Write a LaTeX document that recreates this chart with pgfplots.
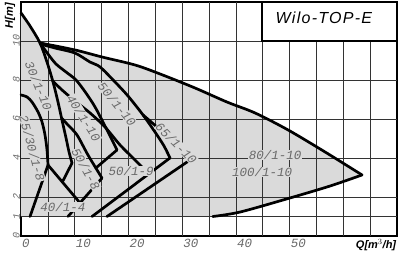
\documentclass[border=0pt]{standalone}
\usepackage{fontspec}
\setmainfont{Liberation Sans}
\newfontfamily\cad{Liberation Mono}
\newfontfamily\wilo[LetterSpace=8]{Liberation Sans}
\usepackage{pgfplots}
\pgfplotsset{compat=1.18}
\definecolor{fillgray}{RGB}{218,218,218}
\definecolor{labgray}{RGB}{105,105,105}
\tikzset{
  crv/.style={black, line width=2.7pt, line join=round, line cap=round},
  gl/.style={black!80, line width=0.6pt},
  lab/.style={font=\cad\itshape\fontsize{12.5}{12.5}\selectfont, text=labgray, fill=fillgray, inner sep=0.4pt},
}
\begin{document}
\begin{tikzpicture}[x=1pt,y=1pt]
\useasboundingbox (0,0) rectangle (400,254);
\begin{axis}[
  at={(21pt,18pt)}, anchor=south west,
  scale only axis, width=376pt, height=234pt,
  xmin=0, xmax=70, ymin=0, ymax=12,
  clip=false,
  axis line style={line width=1.2pt},
  xtick={0,5,...,70},
  xticklabels={0,,10,,20,,30,,40,,50,,,,},
  ytick={0,1,2,4,6,8,10},
  yticklabels={0,1,2,4,6,8,10},
  major tick length=0pt,
  xticklabel style={anchor=north west, font=\cad\itshape\fontsize{12.5}{12.5}\selectfont, text=labgray, inner sep=1pt, yshift=-2pt},
  yticklabel style={rotate=90, anchor=south, font=\cad\itshape\fontsize{10}{10}\selectfont, text=labgray, inner sep=1pt},
]
% shaded field
\addplot[fill=fillgray, draw=none] coordinates {
 (0,11.44) (1.68,10.77) (3.54,9.90) (10.05,9.54) (15.08,9.18) (21.22,8.77) (25.88,8.31)
 (32.40,7.59) (38.35,6.87) (43.57,6.31) (49.71,5.44) (56.60,4.31) (63.49,3.13)
 (57.5,2.56) (50.08,1.95) (40.8,1.23) (35.7,1.0) (0,1.0)} -- cycle;
% grid
\pgfplotsinvokeforeach{5,10,...,65}{\draw[gl] (axis cs:#1,0) -- (axis cs:#1,12);}
\pgfplotsinvokeforeach{1,2,4,6,8,10}{\draw[gl] (axis cs:0,#1) -- (axis cs:70,#1);}
% 80/100 field
\addplot[crv, smooth] coordinates {(3.54,9.90) (10.05,9.54) (15.08,9.18) (21.22,8.77) (25.88,8.31) (32.40,7.59) (38.35,6.87) (43.57,6.31) (49.71,5.44) (56.60,4.31) (63.49,3.13)};
\addplot[crv, smooth] coordinates {(63.49,3.13) (57.5,2.56) (50.08,1.95) (40.8,1.23) (35.7,1.0)};
% 30/1-10 steep curve
\addplot[crv, smooth] coordinates {(0,11.44) (1.68,10.77) (3.54,9.90) (4.84,8.92) (5.96,7.90) (6.89,6.87) (7.63,5.95) (8.38,5.03) (8.94,4.31) (9.50,3.74)};
\addplot[crv] coordinates {(9.50,3.74) (7.7,2.77)};
% 25/30 curve
\addplot[crv, smooth] coordinates {(0,7.23) (1.12,7.13) (2.05,6.87) (3.17,6.36) (3.91,5.85) (4.47,5.18) (4.84,4.41) (5.03,3.64)};
\addplot[crv] coordinates {(5.03,3.64) (1.68,1.0)};
\addplot[crv] coordinates {(5.03,3.64) (11.0,1.69)};
% branch from steep curve
\addplot[crv, smooth] coordinates {(7.55,6.05) (8.75,5.69) (10.43,5.18) (12.48,4.15) (15.08,2.97)};
\addplot[crv] coordinates {(15.08,2.97) (8.75,1.0)};
% 40/1-10
\addplot[crv, smooth] coordinates {(3.54,9.90) (5.03,9.33) (6.52,8.82) (8.38,8.41) (10.24,8.0) (12.10,7.33) (13.78,6.62) (15.45,5.74) (16.76,5.03) (17.87,4.41)};
\addplot[crv] coordinates {(17.87,4.41) (13.95,3.49)};
% second branch
\addplot[crv, smooth] coordinates {(5.9,7.95) (7.63,7.49) (10.05,6.92) (12.85,6.31) (15.64,5.59) (18.43,4.67) (21.22,3.90) (23.8,3.18)};
% 50/1-10
\addplot[crv, smooth] coordinates {(3.54,9.85) (6.33,9.64) (10.05,9.38) (12.85,8.92) (14.71,8.67) (17.50,7.90) (19.92,7.18) (22.71,6.21) (24.95,5.33) (26.62,4.62) (27.74,4.0)};
\addplot[crv] coordinates {(27.74,4.0) (13.22,1.0)};
% 65/1-10
\addplot[crv] coordinates {(22.71,6.21) (32.02,4.0)};
\addplot[crv] coordinates {(32.02,4.0) (16.01,1.0)};
% labels
\node[lab, rotate=-68] at (axis cs:3.3,7.7) {30/1-10};
\node[lab, rotate=-75] at (axis cs:2.1,4.5) {25/30/1-8};
\node[lab, rotate=-58] at (axis cs:11.7,6.05) {40/1-10};
\node[lab, rotate=-51] at (axis cs:17.9,6.75) {50/1-10};
\node[lab, rotate=-45] at (axis cs:28.9,4.75) {65/1-10};
\node[lab, rotate=-61] at (axis cs:12.1,3.44) {50/1-8};
\node[lab] at (axis cs:20.5,3.33) {50/1-9};
\node[lab] at (axis cs:7.8,1.49) {40/1-4};
\node[lab] at (axis cs:47.3,4.15) {80/1-10};
\node[lab] at (axis cs:44.9,3.28) {100/1-10};
% title box
\draw[line width=1.2pt, fill=white] (axis cs:44.87,10) rectangle (axis cs:70,12);
\node[font=\wilo\itshape\fontsize{16}{16}\selectfont] at (axis cs:56.4,11.2) {Wilo-TOP-E};
% axis titles
\node[font=\bfseries\itshape\fontsize{11}{11}\selectfont] at (axis cs:66.1,-0.46) {Q[m$^3$/h]};
\node[font=\bfseries\itshape\fontsize{11}{11}\selectfont, rotate=90] at (axis cs:-2.05,11.3) {H[m]};
\end{axis}
\end{tikzpicture}
\end{document}
